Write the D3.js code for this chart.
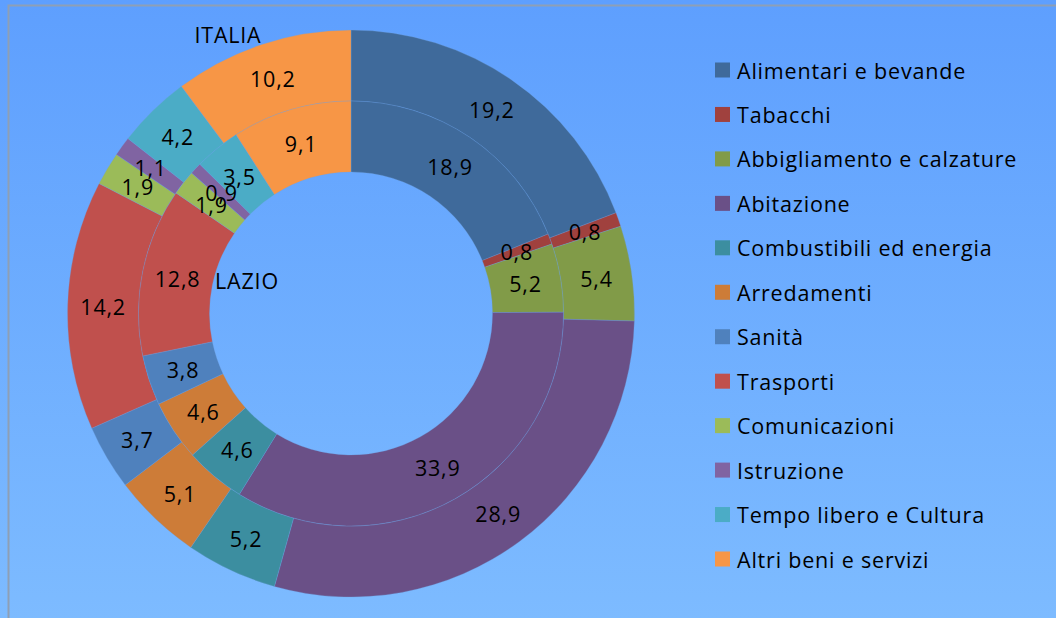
<!DOCTYPE html>
<html>
<head>
<meta charset="utf-8">
<script src="https://cdn.jsdelivr.net/npm/d3@7"></script>
<style>
  html, body { margin: 0; padding: 0; }
  body { width: 1056px; height: 618px; overflow: hidden; }
  text { font-family: "Open Sans", sans-serif; fill: #000; letter-spacing: 0.8px; }
</style>
</head>
<body>
<svg id="chart" width="1056" height="618"></svg>
<script>
// categories (legend order = slice order, clockwise from 12 o'clock)
const categories = [
    "Alimentari e bevande", "Tabacchi", "Abbigliamento e calzature", "Abitazione",
    "Combustibili ed energia", "Arredamenti", "Sanità", "Trasporti",
    "Comunicazioni", "Istruzione", "Tempo libero e Cultura", "Altri beni e servizi"
];
// outer ring
const italiaValues = [19.2, 0.8, 5.4, 28.9, 5.2, 5.1, 3.7, 14.2, 1.9, 1.1, 4.2, 10.2];
// inner ring
const lazioValues = [18.9, 0.8, 5.2, 33.9, 4.6, 4.6, 3.8, 12.8, 1.9, 0.9, 3.5, 9.1];
const sliceColours = [
    "#3f6a9b", "#a0413e", "#819b48", "#6a5087", "#3c8ea0", "#cd7c38",
    "#4f81bd", "#c0504d", "#9bbb59", "#8064a2", "#4bacc6", "#f79646"
];

//dimensions
const width = 1056;
const height = 618;
const cx = 351;
const cy = 313.5;
const rHole = 141.5;
const rMid = 212.5;
const rOuter = 283.5;

const svg = d3.select("#chart");

// background gradient
const defs = svg.append("defs");
const grad = defs.append("linearGradient")
    .attr("id", "bg")
    .attr("x1", 0).attr("y1", 0).attr("x2", 0).attr("y2", 1);
grad.append("stop").attr("offset", "0%").attr("stop-color", "#5e9ffe");
grad.append("stop").attr("offset", "100%").attr("stop-color", "#7dbbff");

svg.append("rect")
    .attr("width", width)
    .attr("height", height)
    .attr("fill", "url(#bg)");

// chart frame
svg.append("rect")
    .attr("x", 8.5)
    .attr("y", 5.5)
    .attr("width", width + 20)
    .attr("height", height + 20)
    .attr("fill", "none")
    .attr("stroke", "#8e9fb5")
    .attr("stroke-width", 2);

const colour = d3.scaleOrdinal().domain(categories).range(sliceColours);
const fmt = v => v.toFixed(1).replace(".", ",");

const pie = d3.pie()
    .sort(null)
    .value(d => d.value);

const rings = [
    { id: "italia", values: italiaValues, inner: rMid, outer: rOuter },
    { id: "lazio", values: lazioValues, inner: rHole, outer: rMid }
];

const chartG = svg.append("g")
    .attr("transform", "translate(" + cx + "," + cy + ")");

rings.forEach(ring => {
    const arcs = pie(categories.map((c, i) => ({ cat: c, value: ring.values[i] })));
    const arc = d3.arc().innerRadius(ring.inner).outerRadius(ring.outer);
    const g = chartG.append("g").attr("class", ring.id);
    g.selectAll("path")
        .data(arcs)
        .enter()
        .append("path")
            .attr("d", arc)
            .attr("fill", d => colour(d.data.cat))
            .attr("stroke", "rgba(110,160,225,0.5)")
            .attr("stroke-width", 0.6);
});

// labels on top of all slices
rings.forEach(ring => {
    const arcs = pie(categories.map((c, i) => ({ cat: c, value: ring.values[i] })));
    const arc = d3.arc().innerRadius(ring.inner).outerRadius(ring.outer);
    chartG.append("g")
        .selectAll("text")
        .data(arcs)
        .enter()
        .append("text")
            .attr("transform", d => "translate(" + arc.centroid(d) + ")")
            .attr("text-anchor", "middle")
            .attr("dominant-baseline", "central")
            .style("font-size", "21.5px")
            .text(d => fmt(d.data.value));
});

// series names
svg.append("text")
    .attr("x", 228).attr("y", 43)
    .attr("text-anchor", "middle")
    .style("font-size", "21.5px")
    .text("ITALIA");
svg.append("text")
    .attr("x", 247).attr("y", 289)
    .attr("text-anchor", "middle")
    .style("font-size", "21.5px")
    .text("LAZIO");

// legend
const legendY = d3.scalePoint()
    .domain(categories)
    .range([70, 559]);

const legendG = svg.append("g").attr("class", "legend");
const item = legendG.selectAll("g.item")
    .data(categories)
    .enter()
    .append("g")
        .attr("class", "item")
        .attr("transform", d => "translate(715," + legendY(d) + ")");
item.append("rect")
    .attr("x", 0).attr("y", -7.5)
    .attr("width", 15).attr("height", 15)
    .attr("fill", d => colour(d));
item.append("text")
    .attr("x", 22).attr("y", 0)
    .attr("dominant-baseline", "central")
    .style("font-size", "21.5px")
    .text(d => d);
</script>
</body>
</html>
